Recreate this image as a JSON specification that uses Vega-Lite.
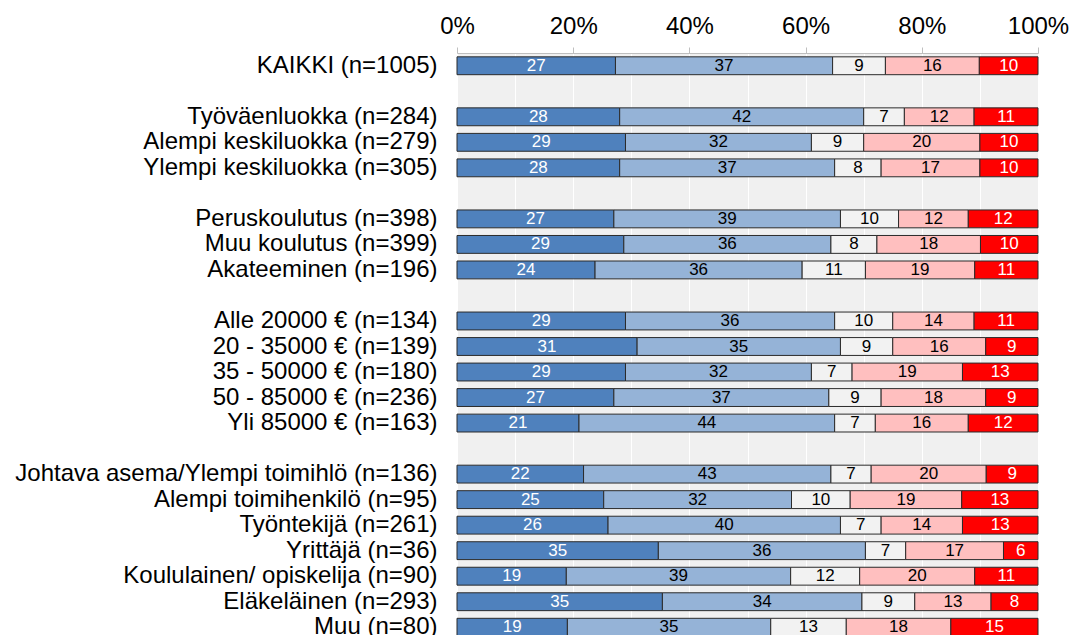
{
  "$schema": "https://vega.github.io/schema/vega-lite/v6.json",
  "autosize": {"type": "none"},
  "padding": {"left": 457, "top": 53, "right": 33, "bottom": 0},
  "width": 581,
  "height": 587,
  "background": "white",
  "config": {
    "font": "Liberation Sans",
    "view": {"fill": "#f0f0f0", "stroke": null}
  },
  "data": {"values": [
    {"g":"KAIKKI (n=1005)","k":1,"v":27},{"g":"KAIKKI (n=1005)","k":2,"v":37},{"g":"KAIKKI (n=1005)","k":3,"v":9},{"g":"KAIKKI (n=1005)","k":4,"v":16},{"g":"KAIKKI (n=1005)","k":5,"v":10},
    {"g":"Työväenluokka (n=284)","k":1,"v":28},{"g":"Työväenluokka (n=284)","k":2,"v":42},{"g":"Työväenluokka (n=284)","k":3,"v":7},{"g":"Työväenluokka (n=284)","k":4,"v":12},{"g":"Työväenluokka (n=284)","k":5,"v":11},
    {"g":"Alempi keskiluokka (n=279)","k":1,"v":29},{"g":"Alempi keskiluokka (n=279)","k":2,"v":32},{"g":"Alempi keskiluokka (n=279)","k":3,"v":9},{"g":"Alempi keskiluokka (n=279)","k":4,"v":20},{"g":"Alempi keskiluokka (n=279)","k":5,"v":10},
    {"g":"Ylempi keskiluokka (n=305)","k":1,"v":28},{"g":"Ylempi keskiluokka (n=305)","k":2,"v":37},{"g":"Ylempi keskiluokka (n=305)","k":3,"v":8},{"g":"Ylempi keskiluokka (n=305)","k":4,"v":17},{"g":"Ylempi keskiluokka (n=305)","k":5,"v":10},
    {"g":"Peruskoulutus (n=398)","k":1,"v":27},{"g":"Peruskoulutus (n=398)","k":2,"v":39},{"g":"Peruskoulutus (n=398)","k":3,"v":10},{"g":"Peruskoulutus (n=398)","k":4,"v":12},{"g":"Peruskoulutus (n=398)","k":5,"v":12},
    {"g":"Muu koulutus (n=399)","k":1,"v":29},{"g":"Muu koulutus (n=399)","k":2,"v":36},{"g":"Muu koulutus (n=399)","k":3,"v":8},{"g":"Muu koulutus (n=399)","k":4,"v":18},{"g":"Muu koulutus (n=399)","k":5,"v":10},
    {"g":"Akateeminen (n=196)","k":1,"v":24},{"g":"Akateeminen (n=196)","k":2,"v":36},{"g":"Akateeminen (n=196)","k":3,"v":11},{"g":"Akateeminen (n=196)","k":4,"v":19},{"g":"Akateeminen (n=196)","k":5,"v":11},
    {"g":"Alle 20000 € (n=134)","k":1,"v":29},{"g":"Alle 20000 € (n=134)","k":2,"v":36},{"g":"Alle 20000 € (n=134)","k":3,"v":10},{"g":"Alle 20000 € (n=134)","k":4,"v":14},{"g":"Alle 20000 € (n=134)","k":5,"v":11},
    {"g":"20 - 35000 € (n=139)","k":1,"v":31},{"g":"20 - 35000 € (n=139)","k":2,"v":35},{"g":"20 - 35000 € (n=139)","k":3,"v":9},{"g":"20 - 35000 € (n=139)","k":4,"v":16},{"g":"20 - 35000 € (n=139)","k":5,"v":9},
    {"g":"35 - 50000 € (n=180)","k":1,"v":29},{"g":"35 - 50000 € (n=180)","k":2,"v":32},{"g":"35 - 50000 € (n=180)","k":3,"v":7},{"g":"35 - 50000 € (n=180)","k":4,"v":19},{"g":"35 - 50000 € (n=180)","k":5,"v":13},
    {"g":"50 - 85000 € (n=236)","k":1,"v":27},{"g":"50 - 85000 € (n=236)","k":2,"v":37},{"g":"50 - 85000 € (n=236)","k":3,"v":9},{"g":"50 - 85000 € (n=236)","k":4,"v":18},{"g":"50 - 85000 € (n=236)","k":5,"v":9},
    {"g":"Yli 85000 € (n=163)","k":1,"v":21},{"g":"Yli 85000 € (n=163)","k":2,"v":44},{"g":"Yli 85000 € (n=163)","k":3,"v":7},{"g":"Yli 85000 € (n=163)","k":4,"v":16},{"g":"Yli 85000 € (n=163)","k":5,"v":12},
    {"g":"Johtava asema/Ylempi toimihlö (n=136)","k":1,"v":22},{"g":"Johtava asema/Ylempi toimihlö (n=136)","k":2,"v":43},{"g":"Johtava asema/Ylempi toimihlö (n=136)","k":3,"v":7},{"g":"Johtava asema/Ylempi toimihlö (n=136)","k":4,"v":20},{"g":"Johtava asema/Ylempi toimihlö (n=136)","k":5,"v":9},
    {"g":"Alempi toimihenkilö (n=95)","k":1,"v":25},{"g":"Alempi toimihenkilö (n=95)","k":2,"v":32},{"g":"Alempi toimihenkilö (n=95)","k":3,"v":10},{"g":"Alempi toimihenkilö (n=95)","k":4,"v":19},{"g":"Alempi toimihenkilö (n=95)","k":5,"v":13},
    {"g":"Työntekijä (n=261)","k":1,"v":26},{"g":"Työntekijä (n=261)","k":2,"v":40},{"g":"Työntekijä (n=261)","k":3,"v":7},{"g":"Työntekijä (n=261)","k":4,"v":14},{"g":"Työntekijä (n=261)","k":5,"v":13},
    {"g":"Yrittäjä (n=36)","k":1,"v":35},{"g":"Yrittäjä (n=36)","k":2,"v":36},{"g":"Yrittäjä (n=36)","k":3,"v":7},{"g":"Yrittäjä (n=36)","k":4,"v":17},{"g":"Yrittäjä (n=36)","k":5,"v":6},
    {"g":"Koululainen/ opiskelija (n=90)","k":1,"v":19},{"g":"Koululainen/ opiskelija (n=90)","k":2,"v":39},{"g":"Koululainen/ opiskelija (n=90)","k":3,"v":12},{"g":"Koululainen/ opiskelija (n=90)","k":4,"v":20},{"g":"Koululainen/ opiskelija (n=90)","k":5,"v":11},
    {"g":"Eläkeläinen (n=293)","k":1,"v":35},{"g":"Eläkeläinen (n=293)","k":2,"v":34},{"g":"Eläkeläinen (n=293)","k":3,"v":9},{"g":"Eläkeläinen (n=293)","k":4,"v":13},{"g":"Eläkeläinen (n=293)","k":5,"v":8},
    {"g":"Muu (n=80)","k":1,"v":19},{"g":"Muu (n=80)","k":2,"v":35},{"g":"Muu (n=80)","k":3,"v":13},{"g":"Muu (n=80)","k":4,"v":18},{"g":"Muu (n=80)","k":5,"v":15}
  ]},
  "transform": [
    {"stack": "v", "groupby": ["g"], "sort": [{"field": "k", "order": "ascending"}], "as": ["v0", "v1"], "offset": "normalize"},
    {"calculate": "(datum.v0 + datum.v1) / 2", "as": "vm"}
  ],
  "encoding": {
    "y": {
      "field": "g", "type": "nominal", "title": null,
      "scale": {
        "domain": ["KAIKKI (n=1005)", "_1", "Työväenluokka (n=284)", "Alempi keskiluokka (n=279)", "Ylempi keskiluokka (n=305)", "_2", "Peruskoulutus (n=398)", "Muu koulutus (n=399)", "Akateeminen (n=196)", "_3", "Alle 20000 € (n=134)", "20 - 35000 € (n=139)", "35 - 50000 € (n=180)", "50 - 85000 € (n=236)", "Yli 85000 € (n=163)", "_4", "Johtava asema/Ylempi toimihlö (n=136)", "Alempi toimihenkilö (n=95)", "Työntekijä (n=261)", "Yrittäjä (n=36)", "Koululainen/ opiskelija (n=90)", "Eläkeläinen (n=293)", "Muu (n=80)"],
        "paddingInner": 0.3, "paddingOuter": 0.15
      },
      "axis": {
        "labelExpr": "indexof(datum.value, '_') == 0 ? '' : datum.value",
        "labelFontSize": 24, "labelColor": "#000000", "labelPadding": 20, "labelLimit": 0,
        "ticks": false, "domain": false, "grid": false
      }
    }
  },
  "layer": [
    {
      "mark": {"type": "bar", "stroke": "#2b2b2b", "strokeWidth": 1},
      "encoding": {
        "x": {
          "field": "v0", "type": "quantitative", "title": null,
          "scale": {"domain": [0, 1], "nice": false},
          "axis": {
            "orient": "top", "format": "%",
            "values": [0, 0.1, 0.2, 0.3, 0.4, 0.5, 0.6, 0.7, 0.8, 0.9, 1],
            "labelExpr": "round(datum.value * 100) % 20 == 0 ? datum.label : ''",
            "labelFontSize": 24, "labelColor": "#000000", "labelPadding": 9,
            "labelFlush": false, "labelOverlap": false, "labelBound": false,
            "tickSize": 6, "tickColor": "#bfbfbf",
            "tickOpacity": {"condition": {"test": "round(datum.value * 100) % 20 == 0", "value": 1}, "value": 0},
            "domainColor": "#bfbfbf",
            "grid": true, "gridColor": "#ffffff", "gridWidth": 1, "gridOpacity": 1
          }
        },
        "x2": {"field": "v1"},
        "color": {
          "field": "k", "type": "nominal", "legend": null,
          "scale": {"domain": [1, 2, 3, 4, 5], "range": ["#4f81bd", "#95b3d7", "#f2f2f2", "#ffbfbf", "#ff0000"]}
        }
      }
    },
    {
      "mark": {"type": "text", "fontSize": 17, "baseline": "middle", "align": "center"},
      "encoding": {
        "x": {"field": "vm", "type": "quantitative"},
        "text": {"field": "v", "type": "quantitative"},
        "color": {"condition": {"test": "datum.k == 1 || datum.k == 5", "value": "#ffffff"}, "value": "#000000"}
      }
    }
  ]
}
